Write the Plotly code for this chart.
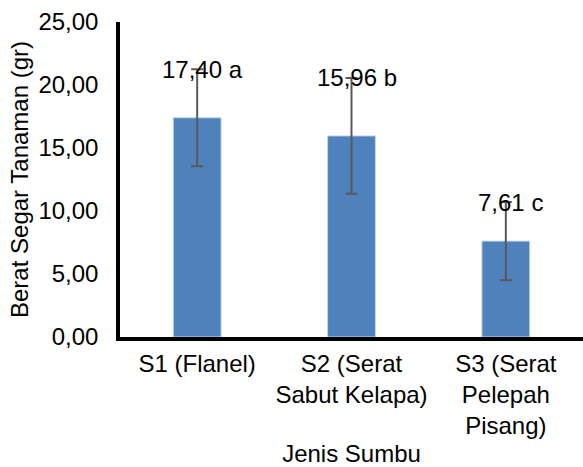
import plotly.graph_objects as go

categories = ["S1 (Flanel)", "S2 (Serat<br>Sabut Kelapa)", "S3 (Serat<br>Pelepah<br>Pisang)"]
means = [17.40, 15.96, 7.61]
errors = [3.85, 4.6, 3.1]
letters = ["a", "b", "c"]

FONT = "Liberation Sans, Arial, sans-serif"

fig = go.Figure()
fig.add_trace(go.Bar(
    x=categories, y=means, width=0.31,
    marker=dict(color="#4F81BD", line=dict(color="#C6D5EA", width=1)),
    error_y=dict(type="data", array=errors, visible=True, color="#5A5A5A", thickness=2, width=6),
    showlegend=False,
))

for c, m, e, l in zip(categories, means, errors, letters):
    fig.add_annotation(
        x=c, y=m + e, text=f"{m:.2f}".replace(".", ",") + " " + l,
        showarrow=False, xanchor="center", yanchor="middle", xshift=5,
        font=dict(family=FONT, size=24, color="#000000"),
    )

fig.update_layout(
    width=583, height=467,
    margin=dict(l=120, r=0, t=22, b=130),
    paper_bgcolor="white", plot_bgcolor="white",
    separators=",.",
    font=dict(family=FONT, size=24, color="#000000"),
)
fig.update_yaxes(
    range=[0, 25], dtick=5, tickformat=".2f", showgrid=False, zeroline=False,
    showline=True, linecolor="black", linewidth=3.5, ticks="",
    ticklabelstandoff=13, automargin=False,
    title=dict(text="Berat Segar Tanaman (gr)", font=dict(size=24), standoff=4),
)
fig.update_xaxes(
    showline=True, linecolor="black", linewidth=3.5, ticks="", showgrid=False,
    ticklabelstandoff=2, automargin=False,
    title=dict(text="Jenis Sumbu", font=dict(size=24), standoff=10),
)

fig.write_html("out.html", config={"displayModeBar": False},
               post_script="document.body.style.margin='0';")
